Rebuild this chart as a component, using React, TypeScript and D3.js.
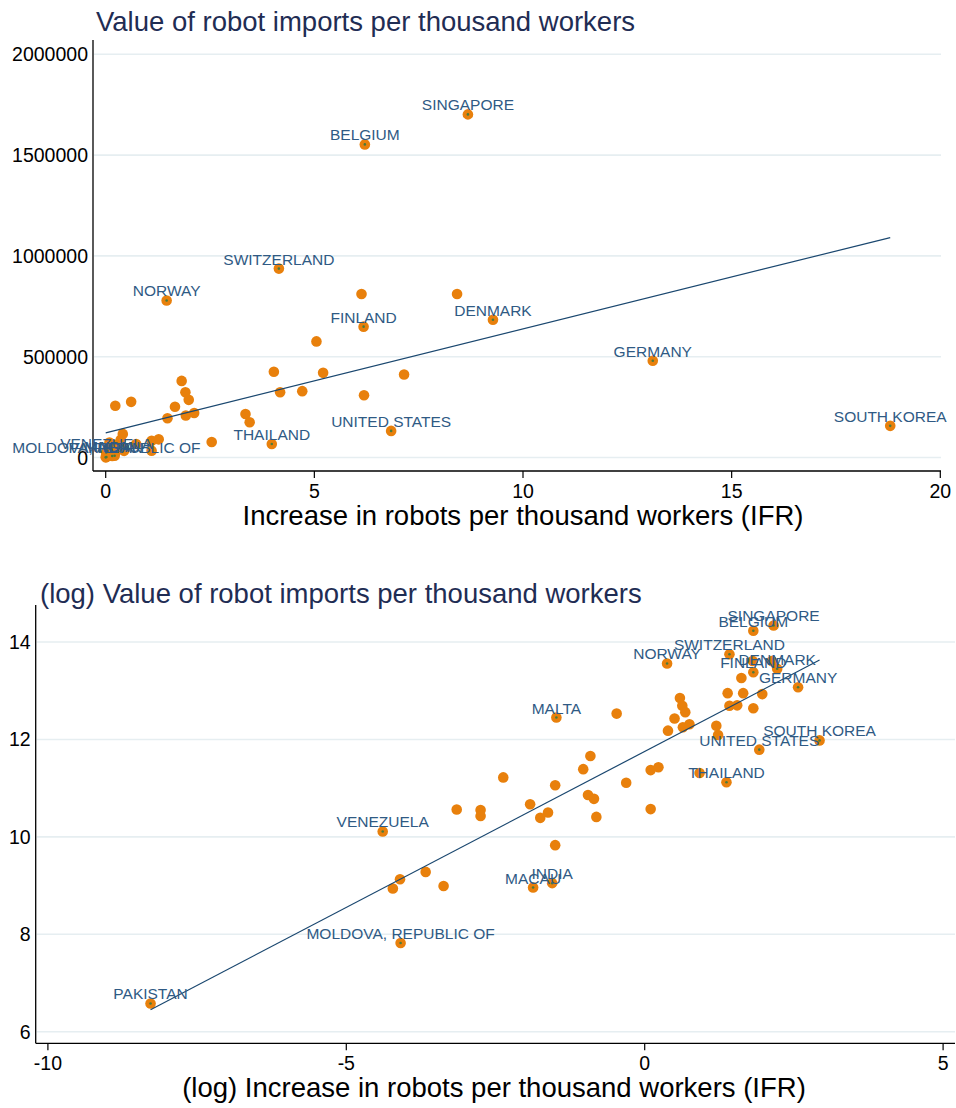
import React from "react";
import * as d3 from "d3";

// ---------- Panel 1: levels ----------
const topNames = [
  "SINGAPORE", "BELGIUM", "SWITZERLAND", "NORWAY", "FINLAND", "DENMARK", "GERMANY",
  "SOUTH KOREA", "UNITED STATES", "THAILAND", "VENEZUELA", "MOLDOVA, REPUBLIC OF",
  "PAKISTAN", "MACAU", "INDIA",
];
const topLabeledX = [8.68, 6.21, 4.15, 1.46, 6.18, 9.28, 13.11, 18.8, 6.84, 3.98, 0.0125, 0.017, 0.0003, 0.156, 0.214];
const topLabeledY = [1702000, 1553000, 937000, 779000, 649000, 683000, 480000, 157000, 132000, 67000, 24800, 2500, 730, 7800, 8500];
const topOtherX = [
  6.13, 8.42, 5.05, 4.03, 5.21, 7.15, 4.18, 4.71, 6.19, 1.82, 1.91, 1.99, 1.66, 0.61, 0.23,
  1.48, 1.92, 2.12, 3.35, 3.45, 2.54, 1.27, 1.10, 1.10, 0.41,
  0.39, 0.43, 0.15, 0.20, 0.17, 0.44, 0.04, 0.06, 0.06, 0.22, 0.017, 0.015, 0.026, 0.034,
  0.36, 0.09, 0.22, 0.73,
];
const topOtherY = [
  811000, 811000, 576000, 425000, 420000, 412000, 324000, 329000, 309000, 380000, 324000, 286000, 252000, 276000, 257000,
  195000, 208000, 221000, 216000, 175000, 77000, 90000, 83000, 34000, 117000,
  52000, 48000, 43000, 36000, 32500, 33000, 38600, 38200, 33900, 18600, 9200, 7600, 10700, 8000,
  88000, 74700, 63600, 66700,
];
const topFitX = [0, 18.8];
const topFitY = [122000, 1091000];
const topXTicks = [0, 5, 10, 15, 20];
const topYTicks = [0, 500000, 1000000, 1500000, 2000000];

// ---------- Panel 2: logs ----------
const logNames = [
  "SINGAPORE", "BELGIUM", "SWITZERLAND", "NORWAY", "FINLAND", "DENMARK", "GERMANY",
  "SOUTH KOREA", "UNITED STATES", "THAILAND", "VENEZUELA", "MOLDOVA, REPUBLIC OF",
  "PAKISTAN", "MACAU", "INDIA", "MALTA",
];
const logLabeledX = [2.16, 1.82, 1.42, 0.375, 1.82, 2.22, 2.57, 2.93, 1.92, 1.37, -4.39, -4.09, -8.28, -1.87, -1.55, -1.48];
const logLabeledY = [14.34, 14.23, 13.75, 13.56, 13.38, 13.45, 13.07, 11.98, 11.79, 11.12, 10.11, 7.82, 6.58, 8.96, 9.05, 12.45];
const logOtherX = [
  -0.47, 0.50, 0.39, 0.59, 0.63, 0.68, 0.75, 0.64, 1.20, 1.23, 1.39, 1.42, 1.55, 1.62, 1.65, 1.82, 1.97, 1.81, 2.13,
  -0.91, -1.03, -2.37, -1.50, 0.10, 0.23, -0.31,
  -0.95, -0.85, -1.92, -1.62, -1.75, -0.81, 0.10, -3.15, -2.75, -2.75, -1.50, -4.10, -4.22, -3.67, -3.37,
  0.92,
];
const logOtherY = [
  12.53, 12.43, 12.18, 12.85, 12.69, 12.56, 12.31, 12.25, 12.28, 12.09, 12.95, 12.69, 12.70, 13.26, 12.95, 12.64, 12.93, 13.61, 13.61,
  11.66, 11.39, 11.22, 11.06, 11.37, 11.43, 11.11,
  10.86, 10.78, 10.67, 10.50, 10.39, 10.41, 10.57, 10.56, 10.55, 10.43, 9.83, 9.13, 8.94, 9.28, 8.99,
  11.31,
];
const logFitX = [-8.28, 2.93];
const logFitY = [6.45, 13.63];
const logXTicks = [-10, -5, 0, 5];
const logYTicks = [6, 8, 10, 12, 14];

const FONT = "'Liberation Sans', Arial, Helvetica, sans-serif";
const DOT = "#e8800c";
const LABEL = "#2f5a84";
const TITLE = "#1f2d54";
const LINE = "#1a476f";
const GRID = "#e6eef1";

type PanelProps = {
  title: string;
  xTitle: string;
  xTitleCenter: number;
  left: number; right: number; top: number; bottom: number;
  titleX: number; titleY: number;
  xScale: d3.ScaleLinear<number, number>;
  yScale: d3.ScaleLinear<number, number>;
  xTicks: number[]; yTicks: number[];
  names: string[]; lx: number[]; ly: number[];
  ox: number[]; oy: number[];
  fx: number[]; fy: number[];
};

function Panel(p: PanelProps) {
  const line = d3.line<number>().x((d, i) => p.xScale(p.fx[i])).y((d, i) => p.yScale(p.fy[i]));
  return (
    <g>
      <text x={p.titleX} y={p.titleY} fontSize={27.5} fill={TITLE} fontFamily={FONT}>{p.title}</text>
      {p.yTicks.map((t) => (
        <line key={"g" + t} x1={p.left + 1} x2={p.right} y1={p.yScale(t)} y2={p.yScale(t)} stroke={GRID} strokeWidth={1.6} />
      ))}
      {p.yTicks.map((t) => (
        <text key={"yt" + t} x={p.left - 5} y={p.yScale(t)} dy="0.36em" textAnchor="end" fontSize={19.5} fontFamily={FONT} fill="#000">
          {String(t)}
        </text>
      ))}
      {p.xTicks.map((t) => (
        <g key={"xt" + t}>
          <line x1={p.xScale(t)} x2={p.xScale(t)} y1={p.bottom} y2={p.bottom + 7} stroke="#000" strokeWidth={1.2} />
          <text x={p.xScale(t)} y={p.bottom + 27} textAnchor="middle" fontSize={19.5} fontFamily={FONT} fill="#000">
            {String(t)}
          </text>
        </g>
      ))}
      <line x1={p.left} x2={p.left} y1={p.top} y2={p.bottom} stroke="#000" strokeWidth={1.3} />
      <line x1={p.left} x2={p.right} y1={p.bottom} y2={p.bottom} stroke="#000" strokeWidth={1.3} />
      <text x={p.xTitleCenter} y={p.bottom + 54} textAnchor="middle" fontSize={27.5} fontFamily={FONT} fill="#000">
        {p.xTitle}
      </text>
      {p.ox.map((v, i) => (
        <circle key={"o" + i} cx={p.xScale(v)} cy={p.yScale(p.oy[i])} r={5.3} fill={DOT} />
      ))}
      {p.lx.map((v, i) => (
        <circle key={"l" + i} cx={p.xScale(v)} cy={p.yScale(p.ly[i])} r={5.3} fill={DOT} />
      ))}
      <path d={line(p.fx) || ""} fill="none" stroke={LINE} strokeWidth={1.2} />
      {p.lx.map((v, i) => (
        <circle key={"c" + i} cx={p.xScale(v)} cy={p.yScale(p.ly[i])} r={1.3} fill="#4b7a3b" />
      ))}
      {p.lx.map((v, i) => (
        <text key={"t" + i} x={p.xScale(v)} y={p.yScale(p.ly[i]) - 4} textAnchor="middle" fontSize={15.5} fontFamily={FONT} fill={LABEL}>
          {p.names[i]}
        </text>
      ))}
    </g>
  );
}

export default function App() {
  const xTop = d3.scaleLinear().domain([0, 20]).range([105.7, 940.3]);
  const yTop = d3.scaleLinear().domain([0, 2000000]).range([457.5, 54.3]);
  const xLog = d3.scaleLinear().domain([-10, 5]).range([47.9, 943.1]);
  const yLog = d3.scaleLinear().domain([6, 14]).range([1031.7, 642]);
  return (
    <svg width={956} height={1108} style={{ position: "absolute", left: 0, top: 0, background: "#fff" }}>
      <rect width={956} height={1108} fill="#fff" />
      <Panel
        title="Value of robot imports per thousand workers"
        xTitle="Increase in robots per thousand workers (IFR)"
        xTitleCenter={523}
        left={93} right={941} top={40} bottom={471}
        titleX={96} titleY={31}
        xScale={xTop} yScale={yTop}
        xTicks={topXTicks} yTicks={topYTicks}
        names={topNames} lx={topLabeledX} ly={topLabeledY}
        ox={topOtherX} oy={topOtherY}
        fx={topFitX} fy={topFitY}
      />
      <Panel
        title="(log) Value of robot imports per thousand workers"
        xTitle="(log) Increase in robots per thousand workers (IFR)"
        xTitleCenter={494}
        left={35.7} right={955} top={605} bottom={1043.3}
        titleX={40} titleY={603}
        xScale={xLog} yScale={yLog}
        xTicks={logXTicks} yTicks={logYTicks}
        names={logNames} lx={logLabeledX} ly={logLabeledY}
        ox={logOtherX} oy={logOtherY}
        fx={logFitX} fy={logFitY}
      />
    </svg>
  );
}
